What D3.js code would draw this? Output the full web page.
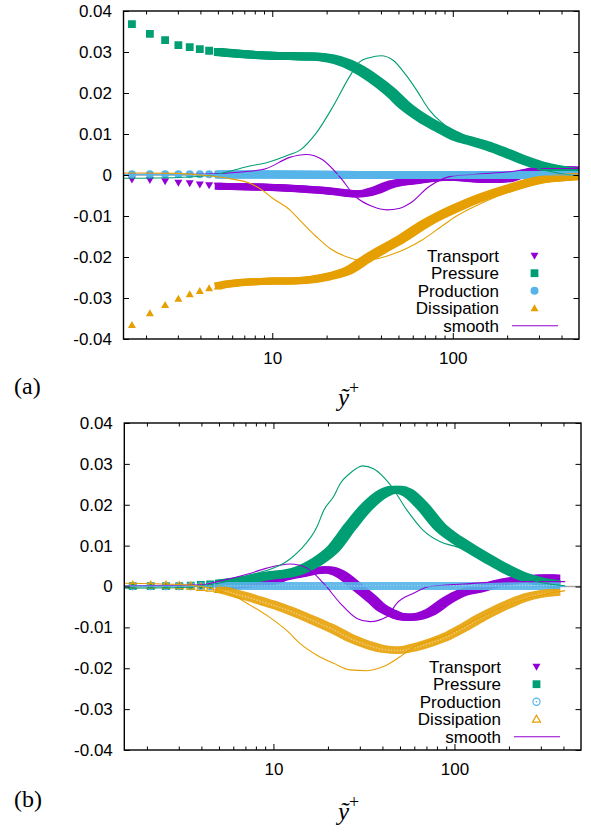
<!DOCTYPE html>
<html>
<head>
<meta charset="utf-8">
<script src="https://cdn.jsdelivr.net/npm/d3@7"></script>
<style>
  body { margin: 0; background: #fff; }
  svg { display: block; }
  text { font-family: "Liberation Sans", Arial, sans-serif; fill: #000; }
</style>
</head>
<body>
<script>
// Budget terms vs y+, two cases (a) and (b). Markers = data, thin lines = smoothed.

const xDomain = [1.5, 500];
const yDomain = [-0.04, 0.04];
const yTicks = [-0.04, -0.03, -0.02, -0.01, 0, 0.01, 0.02, 0.03, 0.04];
const yTickLabels = ['-0.04', '-0.03', '-0.02', '-0.01', '0', '0.01', '0.02', '0.03', '0.04'];
const xMajorTicks = [10, 100];
const xMajorLabels = ['10', '100'];
const xMinorTicks = [2, 3, 4, 5, 6, 7, 8, 9, 20, 30, 40, 50, 60, 70, 80, 90, 200, 300, 400];
const legendLabels = ['Transport', 'Pressure', 'Production', 'Dissipation'];
const smoothLabel = 'smooth';

// ---- case (a): [y+, value]
const aTransport = [[1.67,-0.0011],[2.1,-0.0012],[2.55,-0.0015],[3.02,-0.0019],[3.49,-0.0020],[3.97,-0.0023],[4.47,-0.0025],[4.99,-0.0026],[6,-0.0027],[8,-0.0028],[10,-0.0029],[12.5,-0.0031],[16,-0.0034],[20,-0.0037],[25,-0.0042],[29,-0.0045],[33,-0.0043],[37,-0.0037],[45,-0.0022],[55,-0.0015],[68,-0.0010],[85,-0.0005],[100,-0.0004],[130,-0.0008],[160,-0.0010],[200,-0.0008],[250,0.0006],[300,0.0012],[400,0.0014],[500,0.0013]];
const aPressure = [[1.67,0.0368],[2.1,0.0344],[2.55,0.0329],[3.02,0.0317],[3.49,0.0312],[3.97,0.0307],[4.47,0.0303],[4.99,0.0300],[6,0.0297],[8,0.0293],[10,0.0291],[12.5,0.0290],[16,0.0289],[19,0.0287],[23,0.0280],[29,0.0262],[36,0.0236],[45,0.0203],[55,0.0167],[68,0.0138],[85,0.0114],[105,0.0093],[130,0.0081],[160,0.0069],[200,0.0053],[245,0.0037],[305,0.0023],[375,0.0014],[465,0.0008],[500,0.0006]];
const aProduction = [[1.67,0.0002],[2.1,0.0002],[2.55,0.0002],[3.02,0.0002],[3.49,0.0002],[3.97,0.0002],[4.47,0.0002],[4.99,0.0001],[10,0.0001],[30,0.0],[100,0.0],[300,0.0],[500,0.0]];
const aDissipation = [[1.67,-0.0366],[2.1,-0.0337],[2.55,-0.0317],[3.02,-0.0302],[3.49,-0.0291],[3.97,-0.0283],[4.47,-0.0276],[4.99,-0.0272],[5.5,-0.0268],[6,-0.0266],[7,-0.0263],[10,-0.0260],[14,-0.0259],[20,-0.0250],[27,-0.0232],[33,-0.0207],[40,-0.0185],[51,-0.0159],[70,-0.0120],[85,-0.0100],[105,-0.0081],[140,-0.0058],[200,-0.0035],[300,-0.0014],[400,-0.0008],[500,-0.0005]];

const aTransportSmooth = [[1.5,0.0002],[4,0.0002],[7,0.0008],[9.3,0.0016],[12.5,0.0043],[15.4,0.0050],[19,0.0037],[23.6,-0.0004],[29,-0.0053],[36,-0.0077],[43,-0.0085],[51,-0.0081],[58,-0.0069],[74,-0.0028],[96,-0.0004],[135,0.0002],[207,0.0008],[290,0.0016],[500,0.0016]];
const aPressureSmooth = [[1.5,-0.0008],[3,-0.0006],[4.7,0.0],[7.5,0.0022],[9.3,0.0030],[12.5,0.0050],[14.2,0.0060],[17.5,0.0102],[21.7,0.0167],[26.8,0.0240],[30.5,0.0276],[34.5,0.0286],[40,0.0291],[46.7,0.0280],[55,0.0244],[63,0.0207],[74,0.0159],[88,0.0126],[105,0.0106],[124,0.0092],[150,0.0075],[200,0.0048],[300,0.0016],[400,0.0003],[500,-0.0002]];
const aProductionSmooth = [[1.5,0.0001],[10,0.0001],[100,0.0],[500,0.0]];
const aDissipationSmooth = [[1.5,0.0005],[3,0.0004],[4,0.0],[6,-0.0010],[7.5,-0.0020],[9,-0.0040],[10,-0.0056],[12.5,-0.0085],[14.2,-0.0110],[17.5,-0.0150],[21,-0.0180],[26,-0.0200],[30,-0.0207],[37,-0.0205],[45,-0.0195],[55,-0.0180],[68,-0.0158],[85,-0.0128],[105,-0.0100],[135,-0.0075],[170,-0.0055],[230,-0.0035],[300,-0.0020],[400,-0.0010],[500,-0.0006]];

// ---- case (b)
const bTransport = [[1.67,0.0],[2.1,0.0],[2.55,0.0],[3.02,0.0],[3.49,0.0],[3.97,0.0001],[4.47,0.0002],[4.99,0.0003],[6,0.0005],[7.4,0.0008],[10,0.0015],[11.4,0.0024],[14,0.0032],[17.4,0.0040],[19.6,0.0042],[23.4,0.0032],[29,0.0],[35.7,-0.0033],[39,-0.0049],[44,-0.0062],[50,-0.0072],[57,-0.0074],[73,-0.0062],[91,-0.0033],[112,-0.0013],[139,-0.0004],[172,0.0008],[230,0.0018],[300,0.0022],[370,0.0022]];
const bPressure = [[1.67,0.0001],[2.1,0.0001],[2.55,0.0001],[3.02,0.0001],[3.49,0.0002],[3.97,0.0004],[4.47,0.0005],[4.99,0.0007],[6,0.0011],[7.4,0.0018],[10,0.0028],[12.4,0.0033],[14,0.0040],[17.4,0.0061],[21.5,0.0093],[26.5,0.0146],[32.8,0.0195],[40.5,0.0228],[45,0.0236],[49,0.0237],[55,0.0230],[67,0.0195],[83,0.0146],[103,0.0114],[127,0.0089],[157,0.0065],[195,0.0042],[240,0.0024],[298,0.0012],[370,0.0005]];
const bProduction = [[1.67,0.0001],[2.1,0.0001],[2.55,0.0001],[3.02,0.0001],[3.49,0.0001],[3.97,0.0001],[4.47,0.0001],[4.99,0.0001],[10,0.0001],[50,0.0001],[150,0.0001],[370,0.0001]];
const bDissipation = [[1.67,0.0003],[2.1,0.0003],[2.55,0.0003],[3.02,0.0002],[3.49,0.0001],[3.97,-0.0002],[4.47,-0.0004],[4.99,-0.0007],[6,-0.0017],[7.4,-0.0028],[9.2,-0.0041],[11,-0.0052],[14,-0.0070],[17.4,-0.0088],[21.5,-0.0106],[26.5,-0.0127],[32.8,-0.0143],[40.5,-0.0154],[50,-0.0157],[59,-0.0151],[73,-0.0139],[91,-0.0123],[112,-0.0102],[139,-0.0078],[172,-0.0057],[212,-0.0039],[262,-0.0025],[324,-0.0017],[370,-0.0015]];

const bTransportSmooth = [[1.5,0.0002],[4,0.0004],[4.9,0.0012],[7.4,0.0032],[9.2,0.0045],[12.4,0.0055],[15.3,0.0045],[18.9,0.0008],[23.4,-0.0041],[28.9,-0.0078],[34.2,-0.0086],[42.3,-0.0074],[48,-0.0041],[59,-0.0017],[73,0.0],[112,0.0006],[212,0.0012],[409,0.0012]];
const bPressureSmooth = [[1.5,-0.0004],[3,-0.0003],[4,0.0002],[5,0.0008],[7.4,0.0028],[10,0.0045],[11.4,0.0057],[12.4,0.0068],[14,0.0089],[17.4,0.0146],[19,0.0187],[21.5,0.0220],[23.4,0.0252],[26.5,0.0277],[29,0.0290],[31,0.0295],[35.7,0.0288],[44,0.0250],[54.6,0.0187],[67,0.0138],[83,0.0110],[103,0.0097],[127,0.0085],[157,0.0062],[195,0.0040],[240,0.0022],[300,0.0010],[409,0.0002]];
const bProductionSmooth = [[1.5,0.0001],[50,0.0001],[409,0.0]];
const bDissipationSmooth = [[1.5,0.0008],[3,0.0005],[4,0.0],[6,-0.0022],[7.4,-0.0045],[9.5,-0.0075],[12,-0.0110],[14,-0.0139],[17.4,-0.0168],[21.5,-0.0188],[26.5,-0.0204],[32.8,-0.0206],[40.5,-0.0196],[50,-0.0172],[59,-0.0150],[73,-0.0132],[91,-0.0118],[112,-0.0098],[139,-0.0076],[172,-0.0056],[212,-0.0040],[262,-0.0027],[324,-0.0018],[409,-0.0010]];

const C = { transport: '#9400d3', pressure: '#009e73', production: '#56b4e9', dissipation: '#e69f00' };
const SPARSE_LIMIT = 5;   // below this y+ the grid points are drawn one by one

const W = 591, H = 832;
const svg = d3.select('body').append('svg').attr('width', W).attr('height', H);

const shapes = {
  triDown: 'M-4,-3L4,-3L0,4Z',
  triUp: 'M-4,3L4,3L0,-4Z',
  square: 'M-3.9,-3.9h7.8v7.8h-7.8Z',
  circle: 'M-4,0a4,4 0 1,0 8,0a4,4 0 1,0 -8,0Z',
  ring: 'M-3.6,0a3.6,3.6 0 1,0 7.2,0a3.6,3.6 0 1,0 -7.2,0Z',
};

function drawMarker(sel, m) {
  const p = sel.append('path').attr('d', shapes[m.shape]);
  if (m.open) {
    p.attr('fill', 'none').attr('stroke', m.color).attr('stroke-width', 1.2);
    if (m.shape === 'ring') sel.append('circle').attr('r', 0.8).attr('fill', m.color);
  } else {
    p.attr('fill', m.color);
  }
}

const panels = [
  {
    tag: 'a', left: 123.5, right: 579, top: 11, bottom: 339,
    label: '(a)', labelY: 393.5, xLabelY: 406,
    marks: [
      { data: aTransport, color: C.transport, shape: 'triDown', band: 7 },
      { data: aPressure, color: C.pressure, shape: 'square', band: 8 },
      { data: aProduction, color: C.production, shape: 'circle', band: 8 },
      { data: aDissipation, color: C.dissipation, shape: 'triUp', band: 7 },
    ],
    smooth: [
      [aTransportSmooth, C.transport], [aPressureSmooth, C.pressure],
      [aProductionSmooth, C.production], [aDissipationSmooth, C.dissipation],
    ],
  },
  {
    tag: 'b', left: 124.3, right: 581, top: 423, bottom: 750,
    label: '(b)', labelY: 807, xLabelY: 820,
    marks: [
      { data: bTransport, color: C.transport, shape: 'triDown', band: 7 },
      { data: bPressure, color: C.pressure, shape: 'square', band: 8 },
      { data: bProduction, color: C.production, shape: 'ring', open: true, band: 8, fade: 0.9, texture: 0.8 },
      { data: bDissipation, color: C.dissipation, shape: 'triUp', open: true, band: 7, fade: 0.88, texture: 0.35 },
    ],
    smooth: [
      [bTransportSmooth, C.transport], [bPressureSmooth, C.pressure],
      [bProductionSmooth, C.production], [bDissipationSmooth, C.dissipation],
    ],
  },
];

panels.forEach(drawPanel);

function drawPanel(p) {
  const x = d3.scaleLog().domain(xDomain).range([p.left, p.right]);
  const y = d3.scaleLinear().domain(yDomain).range([p.bottom, p.top]);
  const line = d3.line().x(d => x(d[0])).y(d => y(d[1])).curve(d3.curveMonotoneX);

  const clipId = 'clip-' + p.tag;
  svg.append('clipPath').attr('id', clipId).append('rect')
    .attr('x', p.left).attr('y', p.top)
    .attr('width', p.right - p.left).attr('height', p.bottom - p.top);

  const g = svg.append('g');

  // zero axis
  g.append('line')
    .attr('x1', p.left).attr('x2', p.right).attr('y1', y(0)).attr('y2', y(0))
    .attr('stroke', '#a8a8a8').attr('stroke-width', 1.3);

  const plot = g.append('g').attr('clip-path', `url(#${clipId})`);

  // dense part of each marker series drawn as a band, sparse part as single markers
  p.marks.forEach(m => {
    const dense = m.data.filter(d => d[0] >= SPARSE_LIMIT - 0.05);
    const sg = plot.append('g').attr('opacity', m.fade || 1);
    const dy = m.shape === 'triDown' ? 0.5 : m.shape === 'triUp' ? -0.5 : 0;
    [-3, 0, 3].forEach(dx => {
      sg.append('path')
        .attr('d', line(dense))
        .attr('transform', `translate(${dx},${dy})`)
        .attr('fill', 'none').attr('stroke', m.color)
        .attr('stroke-width', m.band).attr('stroke-linejoin', 'round');
    });
    if (m.texture) {
      // hollow markers leave small gaps inside the band
      sg.append('path').attr('d', line(dense))
        .attr('fill', 'none').attr('stroke', '#fff').attr('stroke-opacity', m.texture)
        .attr('stroke-width', 1.6).attr('stroke-dasharray', '1.5 1.5');
    }
    m.data.filter(d => d[0] <= SPARSE_LIMIT).forEach(d => {
      const mg = plot.append('g').attr('transform', `translate(${x(d[0])},${y(d[1])})`);
      drawMarker(mg, m);
    });
  });

  // smoothed curves
  p.smooth.forEach(([data, color]) => {
    plot.append('path').attr('d', line(data))
      .attr('fill', 'none').attr('stroke', color).attr('stroke-width', 1.1);
  });

  // axes: inward ticks on all four sides
  const styleAxis = a => {
    a.select('.domain').remove();
    a.selectAll('line').attr('stroke', '#000').attr('stroke-width', 1);
    a.selectAll('text').attr('font-size', 17)
      .attr('font-family', '"Liberation Sans", Arial, sans-serif');
  };
  g.append('g').attr('transform', `translate(0,${p.bottom})`)
    .call(d3.axisBottom(x).tickValues(xMajorTicks).tickSize(-6).tickPadding(12.5)
      .tickFormat((d, i) => xMajorLabels[i]))
    .call(styleAxis);
  g.append('g').attr('transform', `translate(0,${p.bottom})`)
    .call(d3.axisBottom(x).tickValues(xMinorTicks).tickSize(-3.5).tickFormat(''))
    .call(styleAxis);
  g.append('g').attr('transform', `translate(0,${p.top})`)
    .call(d3.axisTop(x).tickValues(xMajorTicks).tickSize(-6).tickFormat(''))
    .call(styleAxis);
  g.append('g').attr('transform', `translate(0,${p.top})`)
    .call(d3.axisTop(x).tickValues(xMinorTicks).tickSize(-3.5).tickFormat(''))
    .call(styleAxis);
  g.append('g').attr('transform', `translate(${p.left},0)`)
    .call(d3.axisLeft(y).tickValues(yTicks).tickSize(-5.5).tickPadding(11.5)
      .tickFormat((d, i) => yTickLabels[i]))
    .call(styleAxis);
  g.append('g').attr('transform', `translate(${p.right},0)`)
    .call(d3.axisRight(y).tickValues(yTicks).tickSize(-5.5).tickFormat(''))
    .call(styleAxis);

  g.append('rect')
    .attr('x', p.left).attr('y', p.top)
    .attr('width', p.right - p.left).attr('height', p.bottom - p.top)
    .attr('fill', 'none').attr('stroke', '#000').attr('stroke-width', 1.4);

  // legend
  const lg = g.append('g');
  const rowY = i => p.bottom - 83.3 + i * 17.5;
  p.marks.forEach((m, i) => {
    lg.append('text').attr('x', p.right - 80).attr('y', rowY(i)).attr('dy', '0.36em')
      .attr('text-anchor', 'end').attr('font-size', 17).text(legendLabels[i]);
    drawMarker(lg.append('g').attr('transform', `translate(${p.right - 44.5},${rowY(i)})`), m);
  });
  lg.append('text').attr('x', p.right - 80).attr('y', rowY(4)).attr('dy', '0.36em')
    .attr('text-anchor', 'end').attr('font-size', 17).text(smoothLabel);
  lg.append('line')
    .attr('x1', p.right - 67).attr('x2', p.right - 21)
    .attr('y1', rowY(4)).attr('y2', rowY(4))
    .attr('stroke', C.transport).attr('stroke-width', 1.1);

  // panel tag and axis title
  svg.append('text').attr('x', 14).attr('y', p.labelY)
    .style('font-family', '"Liberation Serif", "Times New Roman", serif').attr('font-size', 24)
    .text(p.label);
  const t = svg.append('text').attr('x', 338).attr('y', p.xLabelY)
    .style('font-family', '"Liberation Serif", "Times New Roman", serif');
  t.append('tspan').attr('font-size', 25).attr('font-style', 'italic').text('ỹ');
  t.append('tspan').attr('font-size', 18).attr('dy', -12).text('+');
}
</script>
</body>
</html>
